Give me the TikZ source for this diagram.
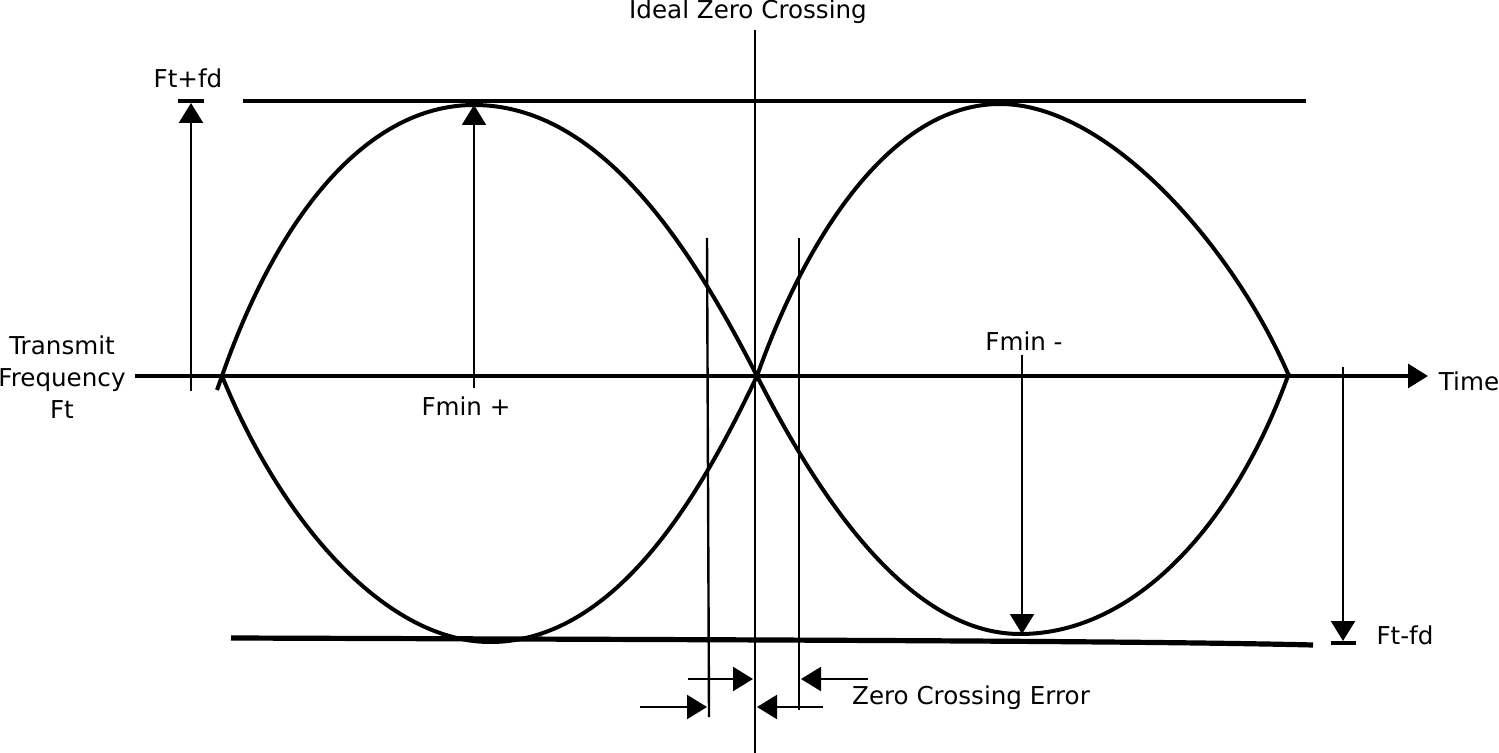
\documentclass[tikz,border=0pt]{standalone}
\usepackage{fontspec}
\setmainfont{DejaVu Sans}
\usetikzlibrary{arrows.meta}

\begin{document}
\begin{tikzpicture}[
    x=0.5pt, y=-0.5pt,
    font=\fontsize{12.3}{16}\selectfont,
    crv/.style={line width=2pt},
    ln/.style={line width=1.2pt},
    ax/.style={line width=1.6pt},
    fl/.style={-{Triangle[length=10pt,width=12pt]}, line width=1.1pt},
    axf/.style={-{Triangle[length=10pt,width=12pt]}, line width=1.6pt},
    lbl/.style={inner sep=0pt, align=center}
]
  \useasboundingbox (0,0) rectangle (1499,753);

  % ================= labels =================
  \node[lbl] (ideal) at (748,12)   {Ideal Zero Crossing};
  \node[lbl] (tx)    at (62,377)   {Transmit\\Frequency\\Ft};
  \node[lbl] (time)  at (1469,381) {Time};
  \node[lbl] (ftp)   at (188,78)   {Ft+fd};
  \node[lbl] (ftm)   at (1405,635) {Ft-fd};
  \node[lbl] (fminp) at (466,406)  {Fmin +};
  \node[lbl] (fminm) at (1024,341) {Fmin -};
  \node[lbl] (zce)   at (971,698)  {Zero Crossing Error};

  % ================= axis and limits =================
  \coordinate (axL) at (135,376);
  \coordinate (axR) at (1428,376);
  \draw[axf] (axL) -- (axR);
  \draw[ax] (243,101) -- (1306,101);
  \draw[line width=2.6pt] (231,638) .. controls (800,640) and (1150,641) .. (1313,645);

  % ideal zero crossing
  \coordinate (zT) at (755,30);
  \coordinate (zB) at (755,753);
  \draw[ln] (zT) -- (zB);

  % ================= waveforms =================
  \draw[crv] (217,390) -- (222,376)
      .. controls (280,210) and (370,105) .. (474,105)
      .. controls (600,105) and (690,245) .. (757,376)
      .. controls (820,500) and (910,634) .. (1020,634)
      .. controls (1140,634) and (1238,516) .. (1289,373);
  \draw[crv] (222,376)
      .. controls (285,530) and (390,642) .. (490,642)
      .. controls (620,642) and (705,485) .. (757,376)
      .. controls (805,240) and (890,104) .. (1000,104)
      .. controls (1110,104) and (1235,250) .. (1289,376);

  % ================= Ft+fd / Ft-fd =================
  \coordinate (a1) at (191,391);
  \coordinate (a1t) at (191,103);
  \draw[fl] (a1) -- (a1t);
  \draw[ax] (178,101) -- (204,101);
  \coordinate (a2) at (1343,367);
  \coordinate (a2t) at (1343,641);
  \draw[fl] (a2) -- (a2t);
  \draw[ax] (1331,643) -- (1356,643);

  % ================= Fmin =================
  \draw[fl] (474,388) -- (474,105);
  \draw[fl] (1022,355) -- (1022,634);

  % ================= zero crossing error =================
  \draw[ln] (707,238) -- (709,717);
  \draw[ln] (799,238) -- (799,710);
  \draw[fl] (688,679) -- (753,679);
  \draw[fl] (640,707) -- (707,707);
  \draw[fl] (868,679) -- (801,679);
  \draw[fl] (823,707) -- (757,707);

\end{tikzpicture}
\end{document}
